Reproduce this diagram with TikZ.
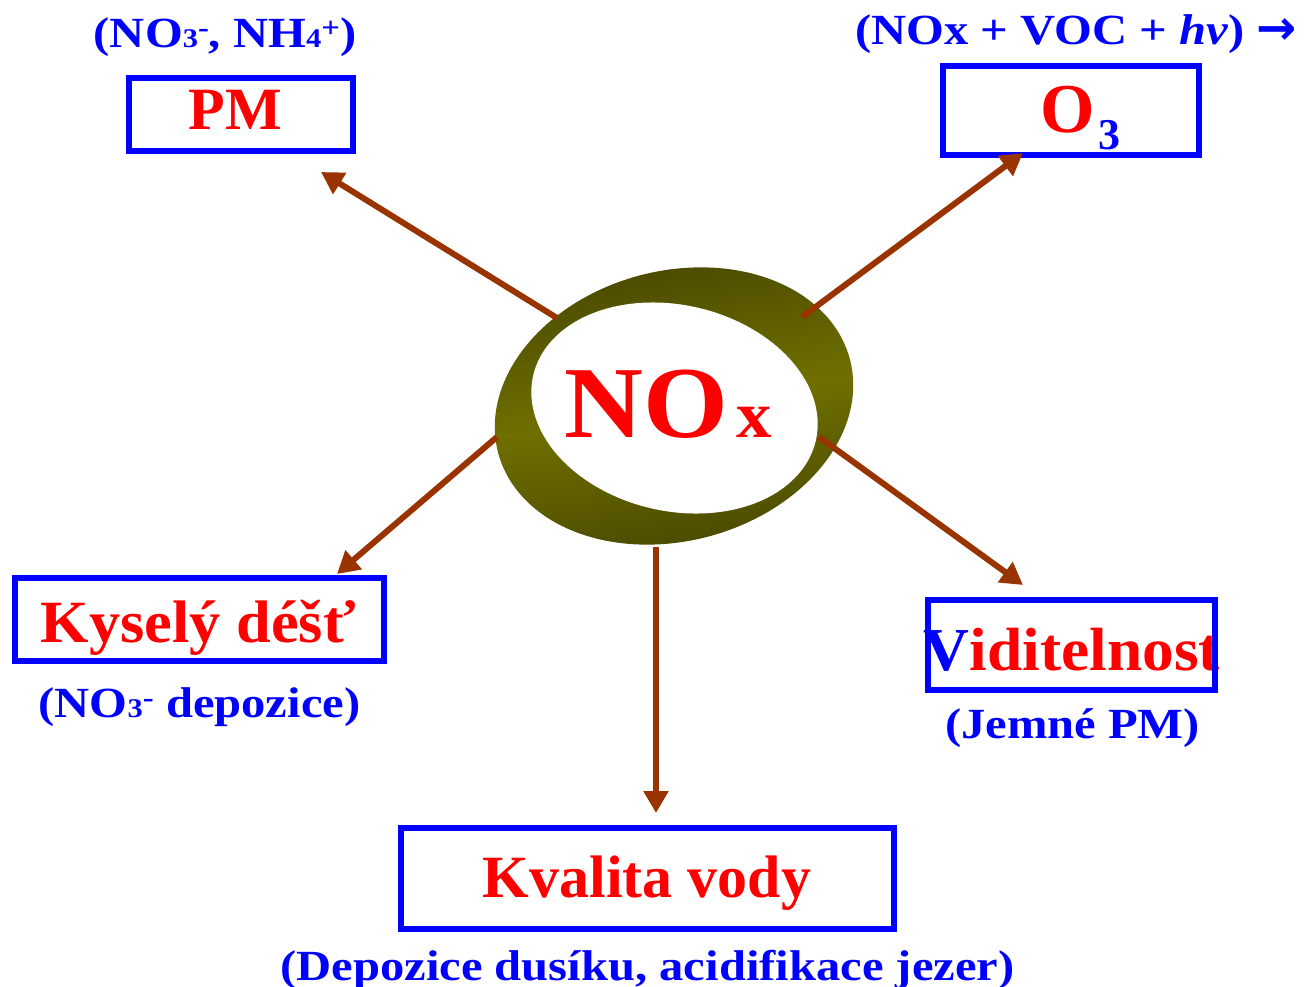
\documentclass[tikz,border=0pt]{standalone}
\usepackage{fontspec}
\setmainfont{Liberation Serif}
\newfontfamily\widefont[FakeStretch=1.13]{Liberation Serif}
\newfontfamily\noxfont[FakeStretch=1.07]{Liberation Serif}
\newfontfamily\redwide[FakeStretch=1.04]{Liberation Serif}
\newfontfamily\arrowfont{DejaVu Sans}
\usetikzlibrary{arrows.meta}
\definecolor{nred}{HTML}{FF0000}
\definecolor{nblue}{HTML}{0000FF}
\definecolor{nbrown}{HTML}{993300}
\definecolor{ringdark}{HTML}{4B4A00}
\definecolor{ringlight}{HTML}{6F6F00}
\newcommand{\fs}[1]{\fontsize{#1}{#1}\selectfont}
\newcommand{\lowdig}[1]{{\fs{27}#1}}
\newcommand{\hisup}[1]{\raisebox{10pt}{\fs{29}#1}}
\tikzset{
  box/.style={draw=nblue, line width=6pt, inner sep=0pt},
  redtxt/.style={text=nred, inner sep=0pt, anchor=base, font=\bfseries\fs{60}},
  bluetxt/.style={text=nblue, inner sep=0pt, anchor=base, font=\widefont\bfseries\fs{43}},
  conn/.style={draw=nbrown, line width=6pt, -{Triangle[length=22pt,width=24pt]}},
}
\begin{document}
\begin{tikzpicture}[x=1pt,y=-1pt]
\useasboundingbox (0,0) rectangle (1311,987);

% ring
\shade[top color=ringdark, bottom color=ringdark, middle color=ringlight, shading angle=10]
  plot[domain=0:360, samples=181, variable=\t]
  ({674 + 182*cos(\t)*cos(15) + 135*sin(\t)*sin(15)}, {406 - 182*cos(\t)*sin(15) + 135*sin(\t)*cos(15)}) -- cycle;
\fill[white]
  plot[domain=0:360, samples=181, variable=\t]
  ({674.5 + 145*cos(\t)*cos(13) - 103*sin(\t)*sin(13)}, {408 + 145*cos(\t)*sin(13) + 103*sin(\t)*cos(13)}) -- cycle;

% NOx
\node[text=nred, inner sep=0pt, anchor=base west, font=\noxfont\bfseries\fs{102}] (no) at (564,437) {NO};
\node[text=nred, inner sep=0pt, anchor=base west, font=\noxfont\bfseries\fs{66}] (nx) at (736,437) {x};

% texts
\node[bluetxt] (pmnote) at (225,48) {(NO\lowdig{3}\hisup{-}, NH\lowdig{4}\hisup{+})};
\node[redtxt] (pmtxt) at (235,130) {PM};

\node[bluetxt, anchor=base west] (o3note) at (855,45) {(NOx + VOC + \textit{hv}) {\arrowfont\bfseries\fs{48}→}};
\node[text=nred, inner sep=0pt, anchor=base west, font=\bfseries\fs{70}] (o3o) at (1040,133) {O};
\node[text=nblue, inner sep=0pt, anchor=base west, font=\bfseries\fs{44}] (o3d) at (1098,150) {3};

\node[redtxt, font=\redwide\bfseries\fs{60}] (kystxt) at (198,642) {Kyselý déšť};
\node[bluetxt] (kysnote) at (199.5,717) {(NO\lowdig{3}\hisup{-} depozice)};

\node[redtxt, font=\redwide\bfseries\fs{61}] (vidtxt) at (1072,670) {\textcolor{nblue}{V}iditelnost};
\node[bluetxt] (vidnote) at (1072.5,738) {(Jemné PM)};

\node[redtxt] (kvtxt) at (647,897) {Kvalita vody};
\node[bluetxt] (kvnote) at (647.5,980) {(Depozice dusíku, acidifikace jezer)};

% boxes
\node[box, minimum width=224pt, minimum height=73pt] (pmbox) at (241,114.5) {};
\node[box, minimum width=256pt, minimum height=89pt] (o3box) at (1071,110.5) {};
\node[box, minimum width=369pt, minimum height=83pt] (kysbox) at (199.5,619.5) {};
\node[box, minimum width=287pt, minimum height=90pt] (vidbox) at (1071.5,645) {};
\node[box, minimum width=493pt, minimum height=101pt] (kvbox) at (647.5,878.5) {};

% connector ends
\coordinate (tpm) at (557,318);   \coordinate (hpm) at (321,172);
\coordinate (to3) at (802,317);   \coordinate (ho3) at (1023,153);
\coordinate (tkys) at (497,437);  \coordinate (hkys) at (337,574);
\coordinate (tkv) at (656,547);   \coordinate (hkv) at (656,813);
\coordinate (tvid) at (819,437);  \coordinate (hvid) at (1023,585);

\draw[conn] (tpm) -- (hpm);
\draw[conn] (to3) -- (ho3);
\draw[conn] (tkys) -- (hkys);
\draw[conn, line width=5.5pt] (tkv) -- (hkv);
\draw[conn] (tvid) -- (hvid);
\end{tikzpicture}
\end{document}
